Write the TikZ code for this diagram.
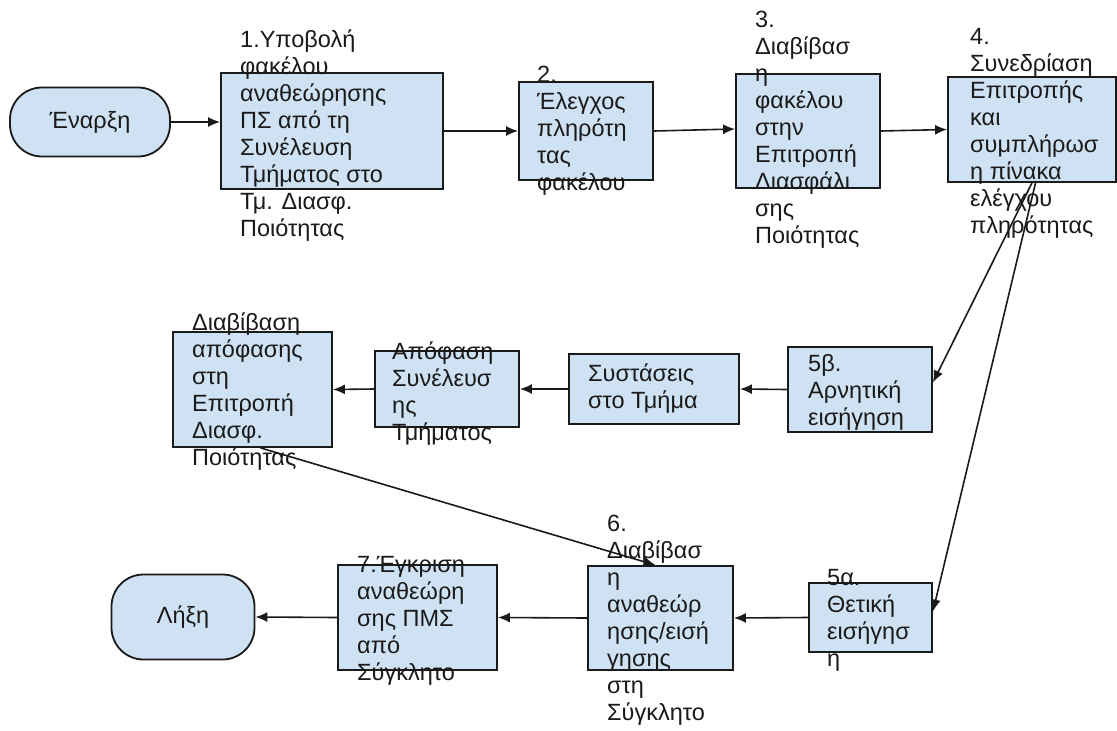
\documentclass[tikz,border=0pt]{standalone}
\usepackage{fontspec}
\setmainfont{Liberation Sans}
\usetikzlibrary{arrows.meta,calc}
\definecolor{boxfill}{HTML}{CFE2F3}
\definecolor{ink}{HTML}{1A1A1A}
\begin{document}
\begin{tikzpicture}[x=1pt,y=-1pt,
  box/.style={draw=ink, line width=1.8pt, fill=boxfill, rectangle, inner sep=0pt},
  term/.style={box, rounded corners=32pt, text=ink, font=\fontsize{23.5}{27}\selectfont},
  txt/.style={anchor=west, align=left, inner sep=0pt, text=ink, font=\fontsize{23.5}{27}\selectfont},
  conn/.style={draw=ink, line width=1.6pt, -{Latex[length=12pt,width=10pt]}}
]
\useasboundingbox[fill=white] (0,0) rectangle (1117,731);

% Row 1
\node[term, minimum width=160pt, minimum height=69pt] (start) at (90,122) {Έναρξη};
\node[box, minimum width=222pt, minimum height=116pt] (b1) at (332,131) {};
\node[txt] (t1) at (240,136) {1.Υποβολή\\φακέλου\\αναθεώρησης\\ΠΣ από τη\\Συνέλευση\\Τμήματος στο\\Τμ. Διασφ.\\Ποιότητας};
\node[box, minimum width=134pt, minimum height=98pt] (b2) at (586,131) {};
\node[txt] (t2) at (537,131) {2.\\Έλεγχος\\πληρότη\\τας\\φακέλου};
\node[box, minimum width=144pt, minimum height=114pt] (b3) at (808,131) {};
\node[txt] (t3) at (755,130) {3.\\Διαβίβασ\\η\\φακέλου\\στην\\Επιτροπή\\Διασφάλι\\σης\\Ποιότητας};
\node[box, minimum width=168pt, minimum height=105pt] (b4) at (1032,129.5) {};
\node[txt] (t4) at (970,133) {4.\\Συνεδρίαση\\Επιτροπής\\και\\συμπλήρωσ\\η πίνακα\\ελέγχου\\πληρότητας};

% Row 2
\node[box, minimum width=159pt, minimum height=115pt] (bd) at (252.5,389.5) {};
\node[txt] (td) at (192,392) {Διαβίβαση\\απόφασης\\στη\\Επιτροπή\\Διασφ.\\Ποιότητας};
\node[box, minimum width=144pt, minimum height=76pt] (be) at (447,389) {};
\node[txt] (te) at (392,394) {Απόφαση\\Συνέλευσ\\ης\\Τμήματος};
\node[box, minimum width=170pt, minimum height=70pt] (bf) at (654,389) {};
\node[txt] (tf) at (588,389) {Συστάσεις\\στο Τμήμα};
\node[box, minimum width=144pt, minimum height=85pt] (bg) at (860,389.5) {};
\node[txt] (tg) at (808,392) {5β.\\Αρνητική\\εισήγηση};

% Row 3
\node[term, minimum width=143pt, minimum height=85pt] (end) at (183,617) {Λήξη};
\node[box, minimum width=159pt, minimum height=105pt] (b7) at (417.5,617.5) {};
\node[txt] (t7) at (357,621) {7.Έγκριση\\αναθεώρη\\σης ΠΜΣ\\από\\Σύγκλητο};
\node[box, minimum width=145pt, minimum height=104pt] (b6) at (660.5,618) {};
\node[txt] (t6) at (607,620) {6.\\Διαβίβασ\\η\\αναθεώρ\\ησης/εισή\\γησης\\στη\\Σύγκλητο};
\node[box, minimum width=123pt, minimum height=69pt] (ba) at (870.5,617.5) {};
\node[txt] (ta) at (827,620) {5α.\\Θετική\\εισήγησ\\η};

% Connectors
\draw[conn] (start.east) -- (start.east -| b1.west);
\draw[conn] (b1.east) -- (b2.west);
\draw[conn] (b2.east) -- ($(b3.west)+(0,-2)$);
\draw[conn] (b3.east) -- (b4.west);
\draw[conn] (b4.south) -- ($(bg.east)+(0,-7)$);
\draw[conn] ($(b4.south)+(4,-2)$) -- ($(ba.east)+(0,-6)$);
\draw[conn] (bg.west) -- (bf.east);
\draw[conn] (bf.west) -- (be.east);
\draw[conn] (be.west) -- (bd.east);
\draw[conn] ($(bd.south west)!0.55!(bd.south east)$) -- ($(b6.north)+(-5,0)$);
\draw[conn] (ba.west) -- (b6.east);
\draw[conn] (b6.west) -- (b7.east);
\draw[conn] (b7.west) -- (end.east);
\end{tikzpicture}
\end{document}
